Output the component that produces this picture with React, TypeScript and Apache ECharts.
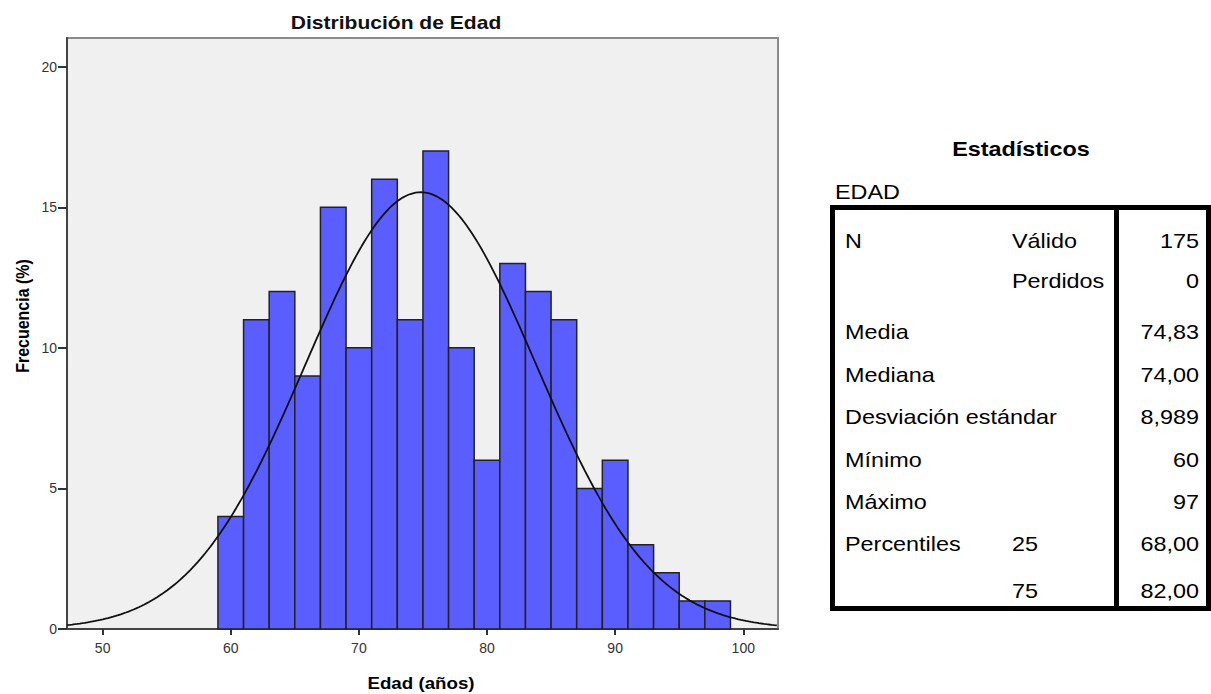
import React, { useEffect, useRef } from "react";
import * as echarts from "echarts";

// ---- Data ----
const binStarts = [59, 61, 63, 65, 67, 69, 71, 73, 75, 77, 79, 81, 83, 85, 87, 89, 91, 93, 95, 97];
const binWidth = 2;
const counts = [4, 11, 12, 9, 15, 10, 16, 11, 17, 10, 6, 13, 12, 11, 5, 6, 3, 2, 1, 1];
const xTicks = [50, 60, 70, 80, 90, 100];
const yTicks = [0, 5, 10, 15, 20];

const meanAge = 74.83;
const sdAge = 8.989;
const nTotal = 175;

const statLabels = ["N", "", "Media", "Mediana", "Desviación estándar", "Mínimo", "Máximo", "Percentiles", ""];
const statSub = ["Válido", "Perdidos", "", "", "", "", "", "25", "75"];
const statValues = ["175", "0", "74,83", "74,00", "8,989", "60", "97", "68,00", "82,00"];

// ---- Layout ----
const X_MIN = 47.22;
const X_MAX = 102.71;
const Y_MAX = 21.02;
const FONT = "'Liberation Sans', Arial, sans-serif";
const rowBaselines = [248, 288, 339, 382, 424, 467, 509, 551, 598];
const STRETCH = 1.17;

export default function App() {
  const ref = useRef<HTMLDivElement>(null);

  useEffect(() => {
    if (!ref.current) return;
    const chart = echarts.init(ref.current, undefined, { renderer: "svg" });

    const barData = binStarts.map((s, i) => [s, s + binWidth, counts[i]]);

    // fitted normal curve from the table's mean / SD
    const curve: number[][] = [];
    const scale = (nTotal * binWidth) / (sdAge * Math.sqrt(2 * Math.PI));
    for (let x = X_MIN; x <= X_MAX + 0.001; x += 0.2) {
      const z = (x - meanAge) / sdAge;
      curve.push([x, scale * Math.exp(-0.5 * z * z)]);
    }

    const txt = (o: any) => ({
      type: "text",
      silent: true,
      ...o,
      style: {
        fontFamily: FONT,
        fill: "#000",
        ...o.style,
        textAlign: o.style.align,
        textVerticalAlign: o.style.verticalAlign,
      },
    });

    const graphics: any[] = [];
    // Chart title and axis names
    graphics.push(
      txt({ x: 396, y: 23, scaleX: STRETCH, style: { text: "Distribución de Edad", fontSize: 18, fontWeight: "bold", fill: "#111", align: "center", verticalAlign: "middle" } })
    );
    graphics.push(
      txt({ x: 421, y: 683, scaleX: STRETCH, style: { text: "Edad (años)", fontSize: 16, fontWeight: "bold", align: "center", verticalAlign: "middle" } })
    );
    graphics.push(
      txt({ x: 22, y: 316, rotation: Math.PI / 2, scaleY: 1.2, style: { text: "Frecuencia (%)", fontSize: 16, fontWeight: "bold", align: "center", verticalAlign: "middle" } })
    );

    // Statistics table
    graphics.push(
      txt({ x: 1021, y: 149, scaleX: STRETCH, style: { text: "Estadísticos", fontSize: 20, fontWeight: "bold", align: "center", verticalAlign: "middle" } })
    );
    graphics.push(
      txt({ x: 835, y: 192, scaleX: STRETCH, style: { text: "EDAD", fontSize: 20, align: "left", verticalAlign: "middle" } })
    );
    const borders = [
      [830, 205, 381, 5],
      [830, 606, 381, 5],
      [830, 205, 5, 406],
      [1206, 205, 5, 406],
      [1114, 205, 5, 406],
    ];
    borders.forEach((b) =>
      graphics.push({ type: "rect", silent: true, shape: { x: b[0], y: b[1], width: b[2], height: b[3] }, style: { fill: "#000" } })
    );
    rowBaselines.forEach((by, i) => {
      const cy = by - 7;
      if (statLabels[i])
        graphics.push(txt({ x: 845, y: cy, scaleX: STRETCH, style: { text: statLabels[i], fontSize: 20, align: "left", verticalAlign: "middle" } }));
      if (statSub[i])
        graphics.push(txt({ x: 1012, y: cy, scaleX: STRETCH, style: { text: statSub[i], fontSize: 20, align: "left", verticalAlign: "middle" } }));
      graphics.push(txt({ x: 1199, y: cy, scaleX: STRETCH, style: { text: statValues[i], fontSize: 20, align: "right", verticalAlign: "middle" } }));
    });

    chart.setOption({
      animation: false,
      backgroundColor: "#ffffff",
      grid: {
        left: 67,
        top: 38,
        right: 433,
        bottom: 65,
        show: true,
        backgroundColor: "#f0f0f0",
        borderColor: "#8a8a8a",
        borderWidth: 2,
      },
      xAxis: {
        type: "value",
        min: X_MIN,
        max: X_MAX,
        splitLine: { show: false },
        axisLine: { show: true, onZero: false, lineStyle: { color: "#444", width: 2 } },
        axisTick: { show: true, length: 6, customValues: xTicks, lineStyle: { color: "#333", width: 2 } },
        axisLabel: { customValues: xTicks, margin: 12, fontSize: 14, color: "#333", fontFamily: FONT },
      },
      yAxis: {
        type: "value",
        min: 0,
        max: Y_MAX,
        splitLine: { show: false },
        axisLine: { show: true, lineStyle: { color: "#444", width: 2 } },
        axisTick: { show: true, length: 9, customValues: yTicks, lineStyle: { color: "#333", width: 2 } },
        axisLabel: { customValues: yTicks, margin: 10, fontSize: 14, color: "#333", fontFamily: FONT },
      },
      series: [
        {
          type: "custom",
          data: barData,
          encode: { x: [0, 1], y: 2 },
          renderItem: (_params: any, api: any) => {
            const p0 = api.coord([api.value(0), 0]);
            const p1 = api.coord([api.value(1), api.value(2)]);
            return {
              type: "rect",
              shape: { x: p0[0], y: p1[1], width: p1[0] - p0[0], height: p0[1] - p1[1] },
              style: { fill: "#5b5eff", stroke: "#222", lineWidth: 1.5 },
            };
          },
          z: 2,
        },
        {
          type: "line",
          data: curve,
          showSymbol: false,
          symbol: "none",
          smooth: false,
          clip: true,
          lineStyle: { color: "#111", width: 1.8 },
          z: 3,
        },
      ],
      graphic: graphics,
    });

    return () => chart.dispose();
  }, []);

  return <div ref={ref} style={{ position: "absolute", left: 0, top: 0, width: 1211, height: 694 }} />;
}
